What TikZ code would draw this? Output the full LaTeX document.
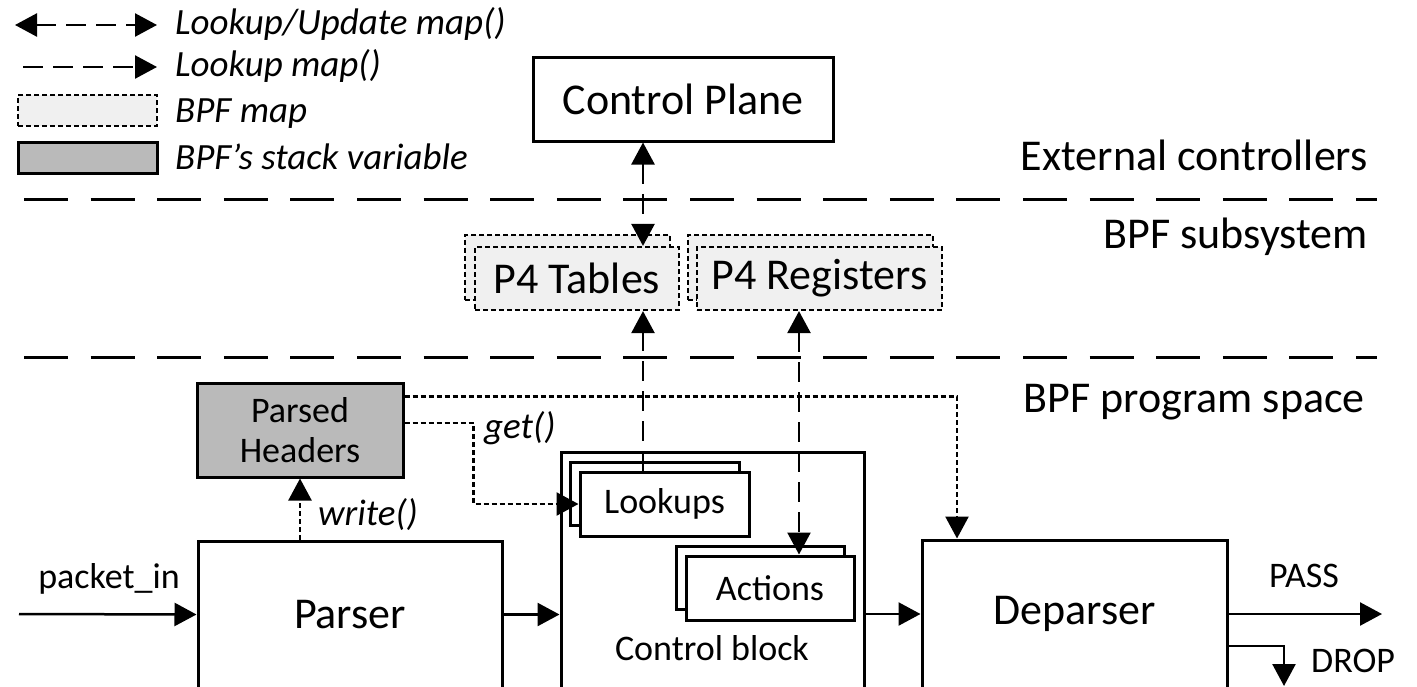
\documentclass[tikz,border=0pt]{standalone}
\usepackage{fontspec}
\setmainfont{Carlito}
\usetikzlibrary{arrows.meta,positioning,calc}

\begin{document}
\begin{tikzpicture}[x=1pt,y=-1pt,
  every node/.style={font=\fontsize{36}{40}\selectfont,inner sep=0pt},
  big/.style={font=\fontsize{44}{50}\selectfont},
  it/.style={font=\fontsize{37}{40}\selectfont\itshape},
  blk/.style={draw,line width=3pt,fill=white},
  mapbox/.style={draw,line width=2.2pt,dash pattern=on 5pt off 3pt,fill=black!6},
  stackbox/.style={draw,line width=3pt,fill=black!27},
  sepline/.style={line width=3pt,dash pattern=on 44pt off 22.6pt},
  lkline/.style={line width=2.5pt,dash pattern=on 20pt off 10pt},
  dotline/.style={line width=2.5pt,dash pattern=on 5pt off 3pt},
  arr/.style={line width=2.5pt,->},
  >={Triangle[length=22pt,width=23pt]}]
  \useasboundingbox (0,0) rectangle (1417,686);
  \clip (0,0) rectangle (1417,686);
  % legend
  \coordinate (l1a) at (15,25);
  \coordinate (l1b) at (157,25);
  \draw[lkline,<->] (l1a) -- (l1b);
  \node[it,anchor=base west] (lg1) at (175,34) {Lookup/Update map()};
  \coordinate (l2a) at (23,67);
  \coordinate (l2b) at (157,67);
  \draw[lkline,->] (l2a) -- (l2b);
  \node[it,anchor=base west] (lg2) at (175,76) {Lookup map()};
  \node[mapbox,minimum width=139pt,minimum height=31pt] (lgmap) at (87.5,110.5) {};
  \node[it,anchor=base west] (lg3) at (175,122) {BPF map};
  \node[stackbox,minimum width=139pt,minimum height=31pt] (lgstack) at (87.5,157.5) {};
  \node[it,anchor=base west] (lg4) at (175,169) {BPF’s stack variable};
  % layers
  \draw[sepline] (24,199) -- (1377,199);
  \draw[sepline] (24,357) -- (1377,357);
  \node[big,anchor=base east] (ext) at (1368,170) {External controllers};
  \node[big,anchor=base east] (sub) at (1368,248) {BPF subsystem};
  \node[big,anchor=base east] (prog) at (1365,412) {BPF program space};
  % control plane and maps
  \node[blk,big,minimum width=300pt,minimum height=84pt] (cp) at (683,99) {Control Plane};
  \node[mapbox,minimum width=205pt,minimum height=65pt] (tblbk) at (567.5,267.5) {};
  \node[mapbox,big,minimum width=204pt,minimum height=63pt] (tbl) at (577,278.5) {P4 Tables};
  \node[mapbox,minimum width=245pt,minimum height=65pt] (regbk) at (810.5,267.5) {};
  \node[mapbox,big,minimum width=245pt,minimum height=63pt] (reg) at (819.5,278.5) {P4 Registers};
  % program space
  \node[stackbox,minimum width=206pt,minimum height=94pt,align=center] (hdr) at (300,430) {Parsed\\Headers};
  \node[blk,big,minimum width=304pt,minimum height=147pt] (par) at (350,614.5) {Parser};
  \node[blk,minimum width=303pt,minimum height=236pt] (ctrl) at (712.5,570) {};
  \node[anchor=base] (ctrltxt) at (712,660) {Control block};
  \node[blk,minimum width=169pt,minimum height=63pt] (lkubk) at (654.5,493.5) {};
  \node[blk,minimum width=169pt,minimum height=64pt] (lku) at (664.5,504) {Lookups};
  \node[blk,minimum width=168pt,minimum height=63pt] (actbk) at (760,577.5) {};
  \node[blk,minimum width=168pt,minimum height=64pt] (act) at (770,588) {Actions};
  \node[blk,big,minimum width=305pt,minimum height=148pt] (dep) at (1074.5,614) {Deparser};
  % map accesses
  \coordinate (tx) at (643,0);
  \coordinate (rx) at (799,0);
  \coordinate (dx) at (957,0);
  \draw[lkline,<->] (cp.south -| tx) -- (tbl.north -| tx);
  \draw[lkline,->] (lku.north -| tx) -- (tbl.south -| tx);
  \draw[lkline,<->] (reg.south -| rx) -- (act.north -| rx);
  % header accesses
  \draw[dotline,->] (hdr.south |- par.north) -- (hdr.south);
  \node[it,anchor=base west] (wr) at (318,525) {write()};
  \draw[dotline,->] ($(hdr.east)+(0,-7)$) -| ($(lku.west)+(-105,0)$) -- (lku.west);
  \node[it,anchor=base west] (gt) at (484,438) {get()};
  \draw[dotline,->] ($(hdr.north east)+(0,15)$) -| (dep.north -| dx);
  % packet path
  \coordinate (pin) at (19,614);
  \draw[arr] (pin) -- (par.west);
  \node[anchor=base] (pintxt) at (109,588) {packet\_in};
  \draw[arr] (par.east) -- (par.east -| ctrl.west);
  \draw[arr] (dep.west -| ctrl.east) -- (dep.west);
  \coordinate (pass) at (1382,614);
  \draw[arr] (dep.east) -- (pass);
  \node[anchor=base] (passtxt) at (1304,587) {PASS};
  \coordinate (drop) at (1284,686);
  \draw[arr] ($(dep.east)+(0,32)$) -| (drop);
  \node[anchor=base west] (droptxt) at (1311,672) {DROP};
\end{tikzpicture}
\end{document}
